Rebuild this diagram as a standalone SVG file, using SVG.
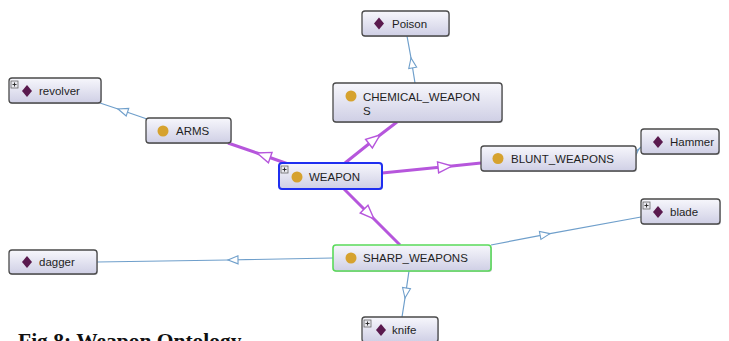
<svg xmlns="http://www.w3.org/2000/svg" width="729" height="341" viewBox="0 0 729 341">
  <style>
    .box { fill: url(#nodeFill); stroke: #4a4a4a; stroke-width: 1.3; }
    .shadow { fill: #9a9aa8; opacity: 0.55; }
    .lbl { font-family: "Liberation Sans", Arial, sans-serif; font-size: 11.5px; fill: #1e1e1e; }
    .cls { fill: #d6a22e; }
    .ind { fill: #5a1a4e; }
    .plusbox { fill: #e8e8ee; stroke: #666; stroke-width: 0.8; }
    .plus { stroke: #222; stroke-width: 0.9; }
    .isa { fill: none; stroke: #b656dc; stroke-width: 3; marker-mid: url(#headPurple); }
    .inst { fill: none; stroke: #6f9fcb; stroke-width: 1.2; marker-mid: url(#headBlue); }
    .caption { font-family: "Liberation Serif", "Times New Roman", serif; font-weight: bold; font-size: 21.5px; fill: #111; }
  </style>
  <defs>
    <linearGradient id="nodeFill" x1="0" y1="0" x2="0" y2="1">
      <stop offset="0" stop-color="#f7f7fc"/>
      <stop offset="1" stop-color="#cfcfe5"/>
    </linearGradient>
    <marker id="headPurple" markerUnits="userSpaceOnUse" viewBox="-16 -8 18 16" refX="0" refY="0" markerWidth="18" markerHeight="16" orient="auto" overflow="visible">
      <path d="M0,0 L-14,-5.5 L-14,5.5 Z" fill="#ffffff" stroke="#b656dc" stroke-width="1.4" stroke-linejoin="miter"/>
    </marker>
    <marker id="headBlue" markerUnits="userSpaceOnUse" viewBox="-12 -6 14 12" refX="0" refY="0" markerWidth="14" markerHeight="12" orient="auto" overflow="visible">
      <path d="M0,0 L-10,-4 L-10,4 Z" fill="#ffffff" stroke="#6f9fcb" stroke-width="1.1"/>
    </marker>
  </defs>

  <rect width="729" height="341" fill="#ffffff"/>

  <!-- connectors -->
  <g id="connectors">
    <path class="inst" d="M147,119 L118,109 L100,103"/>
    <path class="inst" d="M415,83 L411,58 L407,36"/>
    <path class="inst" d="M636,152 L638.5,149.5 L641,147"/>
    <path class="inst" d="M491,245 L550,233.6 L641,217"/>
    <path class="inst" d="M333,258 L228,260 L97,262"/>
    <path class="inst" d="M409,271 L405,298 L402,317"/>
    <path class="isa" d="M291,165 L257,153 L228,143"/>
    <path class="isa" d="M345,163 L380,135 L397,122"/>
    <path class="isa" d="M382,173 L452,166 L481,163"/>
    <path class="isa" d="M343,188 L374,219 L400,245"/>
  </g>

  <!-- nodes -->
  <g id="node-revolver">
    <rect class="shadow" x="10" y="79" width="92" height="25" rx="3"/>
    <rect class="box" x="9" y="78" width="92" height="25" rx="3"/>
    <rect class="plusbox" x="11" y="81" width="7" height="7"/>
    <path class="plus" d="M12.5,84.5 H16.5 M14.5,82.5 V86.5"/>
    <path class="ind" d="M27,85 L32,91 L27,97 L22,91 Z"/>
    <text class="lbl" x="39" y="95">revolver</text>
  </g>

  <g id="node-arms">
    <rect class="shadow" x="147" y="119" width="85" height="25" rx="3"/>
    <rect class="box" x="146" y="118" width="85" height="25" rx="3"/>
    <circle class="cls" cx="163" cy="131" r="5.5"/>
    <text class="lbl" x="176" y="135">ARMS</text>
  </g>

  <g id="node-poison">
    <rect class="shadow" x="363" y="12" width="87" height="25" rx="3"/>
    <rect class="box" x="362" y="11" width="87" height="25" rx="3"/>
    <path class="ind" d="M379,17.5 L384,23.5 L379,29.5 L374,23.5 Z"/>
    <text class="lbl" x="392" y="28">Poison</text>
  </g>

  <g id="node-chemical">
    <rect class="shadow" x="334" y="84" width="169" height="39" rx="3"/>
    <rect class="box" x="333" y="83" width="169" height="39" rx="3"/>
    <circle class="cls" cx="351" cy="96" r="5.5"/>
    <text class="lbl" x="363" y="101">CHEMICAL_WEAPON</text>
    <text class="lbl" x="363" y="115">S</text>
  </g>

  <g id="node-weapon">
    <rect class="shadow" x="280" y="164" width="103" height="26" rx="3"/>
    <rect x="279" y="163" width="103" height="26" rx="3" fill="url(#nodeFill)" stroke="#1f2ff0" stroke-width="2"/>
    <rect class="plusbox" x="281" y="166" width="7" height="7"/>
    <path class="plus" d="M282.5,169.5 H286.5 M284.5,167.5 V171.5"/>
    <circle class="cls" cx="297" cy="177" r="5.5"/>
    <text class="lbl" x="309" y="181">WEAPON</text>
  </g>

  <g id="node-blunt">
    <rect class="shadow" x="482" y="147" width="155" height="25" rx="3"/>
    <rect class="box" x="481" y="146" width="155" height="25" rx="3"/>
    <circle class="cls" cx="498" cy="158.5" r="5.5"/>
    <text class="lbl" x="511" y="163">BLUNT_WEAPONS</text>
  </g>

  <g id="node-hammer">
    <rect class="shadow" x="642" y="130" width="78" height="25" rx="3"/>
    <rect class="box" x="641" y="129" width="78" height="25" rx="3"/>
    <path class="ind" d="M658,136 L663,142 L658,148 L653,142 Z"/>
    <text class="lbl" x="670" y="146">Hammer</text>
  </g>

  <g id="node-blade">
    <rect class="shadow" x="642" y="200" width="79" height="25" rx="3"/>
    <rect class="box" x="641" y="199" width="79" height="25" rx="3"/>
    <rect class="plusbox" x="643" y="202" width="7" height="7"/>
    <path class="plus" d="M644.5,205.5 H648.5 M646.5,203.5 V207.5"/>
    <path class="ind" d="M658,206 L663,212 L658,218 L653,212 Z"/>
    <text class="lbl" x="670" y="216">blade</text>
  </g>

  <g id="node-sharp">
    <rect class="shadow" x="334" y="246" width="158" height="26" rx="3"/>
    <rect x="333" y="245" width="158" height="26" rx="3" fill="url(#nodeFill)" stroke="#5ada5a" stroke-width="1.6"/>
    <circle class="cls" cx="351" cy="258" r="5.5"/>
    <text class="lbl" x="363" y="262">SHARP_WEAPONS</text>
  </g>

  <g id="node-dagger">
    <rect class="shadow" x="10" y="251" width="88" height="24" rx="3"/>
    <rect class="box" x="9" y="250" width="88" height="24" rx="3"/>
    <path class="ind" d="M27,256 L32,262 L27,268 L22,262 Z"/>
    <text class="lbl" x="39" y="266">dagger</text>
  </g>

  <g id="node-knife">
    <rect class="shadow" x="363" y="318" width="76" height="25" rx="3"/>
    <rect class="box" x="362" y="317" width="76" height="25" rx="3"/>
    <rect class="plusbox" x="364" y="320" width="7" height="7"/>
    <path class="plus" d="M365.5,323.5 H369.5 M367.5,321.5 V325.5"/>
    <path class="ind" d="M381,324 L386,330 L381,336 L376,330 Z"/>
    <text class="lbl" x="392" y="334">knife</text>
  </g>

  <text class="caption" x="18" y="348">Fig 8: Weapon Ontology</text>
</svg>
